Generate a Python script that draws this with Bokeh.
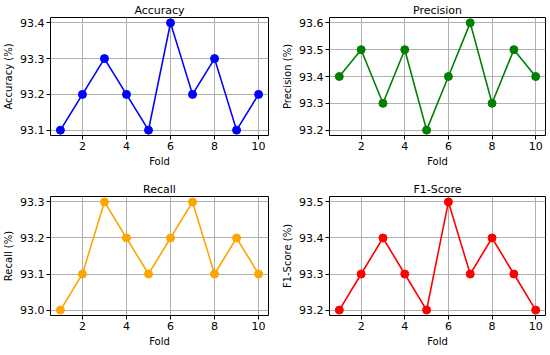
from bokeh.plotting import figure
from bokeh.layouts import gridplot
from bokeh.models import FixedTicker, PrintfTickFormatter, Range1d
from bokeh.embed import file_html
from bokeh.resources import INLINE

folds = [1, 2, 3, 4, 5, 6, 7, 8, 9, 10]
accuracy = [93.1, 93.2, 93.3, 93.2, 93.1, 93.4, 93.2, 93.3, 93.1, 93.2]
precision = [93.4, 93.5, 93.3, 93.5, 93.2, 93.4, 93.6, 93.3, 93.5, 93.4]
recall = [93.0, 93.1, 93.3, 93.2, 93.1, 93.2, 93.3, 93.1, 93.2, 93.1]
f1_score = [93.2, 93.3, 93.4, 93.3, 93.2, 93.5, 93.3, 93.4, 93.3, 93.2]

x_ticks = [2, 4, 6, 8, 10]
acc_ticks = [93.1, 93.2, 93.3, 93.4]
prec_ticks = [93.2, 93.3, 93.4, 93.5, 93.6]
rec_ticks = [93.0, 93.1, 93.2, 93.3]
f1_ticks = [93.2, 93.3, 93.4, 93.5]

FONT = "DejaVu Sans"


def make(title, ylabel, ys, yticks, color, fw, fh, bl, br, bt, bb):
    lo, hi = min(ys), max(ys)
    pad = (hi - lo) * 0.05
    xpad = (max(folds) - min(folds)) * 0.05
    p = figure(frame_width=fw, frame_height=fh, output_backend="svg",
               toolbar_location=None,
               x_range=Range1d(min(folds) - xpad, max(folds) + xpad),
               y_range=Range1d(lo - pad, hi + pad),
               min_border_left=bl, min_border_right=br,
               min_border_top=bt, min_border_bottom=bb)
    p.title.text = title
    p.title.align = "center"
    p.title.text_font = FONT
    p.title.text_font_style = "normal"
    p.title.text_font_size = "11px"
    p.title.text_color = "black"
    p.title.standoff = 2
    p.title.offset = 0
    p.xaxis.axis_label = "Fold"
    p.yaxis.axis_label = ylabel
    for ax in (p.xaxis[0], p.yaxis[0]):
        ax.axis_label_text_font = FONT
        ax.axis_label_text_font_style = "normal"
        ax.axis_label_text_font_size = "10px"
        ax.axis_label_text_color = "black"
        ax.major_label_text_font = FONT
        ax.major_label_text_font_size = "11px"
        ax.major_label_text_color = "black"
        ax.axis_line_color = None
        ax.major_tick_line_color = "black"
        ax.major_tick_out = 4
        ax.major_tick_in = 0
        ax.minor_tick_line_color = None
        ax.major_label_standoff = 2
        ax.axis_label_standoff = 3
    p.xaxis.ticker = FixedTicker(ticks=x_ticks)
    p.yaxis.ticker = FixedTicker(ticks=yticks)
    p.yaxis.formatter = PrintfTickFormatter(format="%.1f")
    p.xgrid.ticker = FixedTicker(ticks=x_ticks)
    p.ygrid.ticker = FixedTicker(ticks=yticks)
    p.grid.grid_line_color = "#b0b0b0"
    p.grid.grid_line_width = 1
    p.outline_line_color = "black"
    p.outline_line_width = 1
    p.outline_line_alpha = 1
    p.line(folds, ys, line_color=color, line_width=1.6)
    p.scatter(folds, ys, size=8, fill_color=color, line_color=color)
    return p


p1 = make("Accuracy", "Accuracy (%)", accuracy, acc_ticks, "blue", 218, 118, 42, 11, 12, 43)
p2 = make("Precision", "Precision (%)", precision, prec_ticks, "green", 216, 118, 48, 7, 12, 43)
p3 = make("Recall", "Recall (%)", recall, rec_ticks, "orange", 218, 119, 42, 11, 18, 37)
p4 = make("F1-Score", "F1-Score (%)", f1_score, f1_ticks, "red", 216, 119, 48, 7, 18, 37)

grid = gridplot([[p1, p2], [p3, p4]], toolbar_location=None)

open("out.html", "w").write(file_html(grid, INLINE))
